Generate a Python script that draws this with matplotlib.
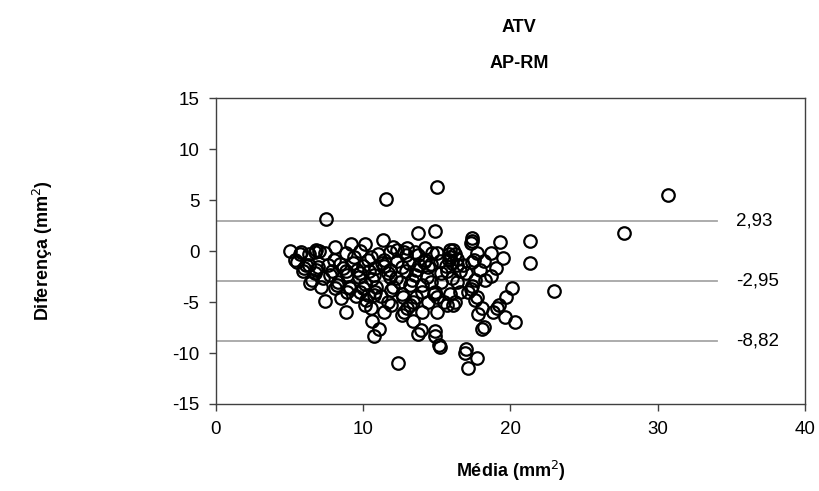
import matplotlib
matplotlib.use("Agg")
import matplotlib.pyplot as plt

plt.rcParams['font.family'] = ['Liberation Sans', 'DejaVu Sans']
plt.rcParams['axes.unicode_minus'] = False

# Bland-Altman: media (x) vs diferenca (y), mm2
media = [7.45, 11.55, 15.0, 30.7, 27.7, 21.3, 21.3, 22.95, 13.7, 14.9,
         5.0, 5.8, 5.7, 6.8, 6.7, 8.1, 9.2, 10.1, 11.35, 12.05,
         17.4, 17.4, 17.3, 19.3, 12.95, 15.9, 9.8, 11.8, 14.65, 15.0,
         17.7, 18.7, 19.5, 8.8, 12.8, 16.1, 12.9, 13.75, 15.8, 15.9,
         15.8, 17.5, 17.4, 19.0, 18.7, 17.9, 5.4, 5.5, 6.1, 6.3,
         5.9, 6.0, 6.4, 6.5, 6.7, 6.8, 6.95, 7.15, 7.3, 7.4,
         7.6, 7.75, 7.85, 8.1, 8.2, 8.3, 8.5, 8.8, 8.65, 8.8,
         8.9, 9.0, 9.1, 9.6, 9.7, 9.8, 9.8, 10.0, 10.1, 10.35,
         10.5, 10.1, 10.2, 10.35, 10.6, 11.05, 10.7, 10.6, 10.7, 10.8,
         10.9, 10.8, 10.7, 11.25, 11.4, 11.4, 11.7, 11.8, 11.8, 11.9,
         12.05, 11.7, 11.9, 12.35, 12.6, 12.7, 12.6, 12.8, 12.95, 13.2,
         13.4, 13.4, 13.75, 13.95, 14.0, 14.0, 13.2, 13.3, 13.5, 13.6,
         13.8, 14.1, 14.4, 14.9, 14.85, 15.15, 15.2, 15.0, 15.0, 14.8,
         14.9, 15.3, 15.3, 15.5, 15.7, 15.9, 16.1, 16.2, 16.35, 16.35,
         17.0, 17.1, 17.3, 17.4, 17.6, 17.7, 18.05, 17.8, 18.2, 18.05,
         18.8, 19.1, 19.2, 19.6, 20.3, 19.7, 20.1, 17.0, 16.9, 17.7,
         17.1, 14.2, 14.6, 15.2, 15.6, 16.0, 16.4, 16.8, 12.3, 12.6,
         12.9, 13.1, 12.2, 12.5, 14.3, 14.6, 14.0, 16.0, 15.7, 16.6,
         9.3, 9.4, 10.0, 10.4, 8.4, 8.0, 7.4, 7.0, 6.3, 11.0,
         12.3, 13.5, 14.2, 16.2, 18.2, 18.3, 17.6, 13.6, 11.2, 9.5,
         10.5, 11.4, 14.4, 16.6, 8.9]

diferenca = [3.1, 5.1, 6.3, 5.5, 1.8, 1.0, -1.15, -3.9, 1.8, 2.0,
             0.05, -0.05, -0.3, 0.1, -0.1, 0.4, 0.65, 0.65, 1.05, 0.4,
             1.25, 1.0, 0.75, 0.85, 0.25, 0.1, 0.0, -0.05, -0.2, -0.2,
             -0.15, -0.2, -0.7, -0.2, -0.05, 0.15, -0.4, -0.4, -0.25, -0.55,
             -0.9, -0.9, -1.05, -1.7, -2.4, -1.85, -0.9, -1.05, -1.4, -1.4,
             -2.0, -1.7, -3.1, -2.85, -2.2, -1.85, -1.6, -3.5, -2.6, -4.9,
             -1.4, -2.35, -2.0, -3.65, -3.3, -3.0, -4.6, -6.0, -1.7, -2.0,
             -2.35, -3.5, -3.65, -1.85, -2.5, -2.2, -4.0, -3.65, -3.2, -0.9,
             -0.55, -5.3, -4.8, -4.3, -6.9, -7.6, -8.35, -2.7, -2.35, -1.7,
             -3.5, -4.0, -4.3, -1.2, -0.9, -1.5, -2.2, -2.5, -1.85, -3.8,
             -3.5, -4.95, -5.3, -10.95, -4.2, -4.5, -6.3, -5.95, -5.6, -5.3,
             -4.95, -6.9, -8.1, -7.75, -5.95, -4.0, -3.3, -2.8, -2.3, -1.9,
             -1.4, -1.1, -1.6, -7.8, -8.3, -9.2, -9.4, -5.95, -4.5, -4.25,
             -4.05, -3.0, -2.2, -4.95, -5.3, -4.2, -5.3, -4.95, -3.0, -1.4,
             -2.2, -4.0, -3.7, -3.4, -4.8, -4.5, -5.6, -6.2, -7.4, -7.6,
             -5.95, -5.6, -5.3, -6.5, -7.0, -4.5, -3.65, -9.6, -10.0, -10.5,
             -11.5, -0.9, -1.3, -1.0, -1.5, -1.2, -0.8, -1.4, -1.0, -1.6,
             -2.0, -1.2, -2.6, -3.0, -2.5, -3.0, -3.3, -2.6, -2.0, -2.0,
             -1.2, -0.6, -1.5, -2.0, -1.3, -0.9, -0.2, 0.0, -0.3, -0.3,
             0.1, -0.1, 0.3, -0.3, -1.0, -2.8, -2.8, -4.5, -4.4, -4.4,
             -5.6, -6.0, -5.0, -4.0, -4.0]

limites = [2.93, -2.95, -8.82]
limite_labels = ['2,93', '-2,95', '-8,82']

fig = plt.figure(figsize=(8.19, 4.91), dpi=100)
ax = fig.add_axes([0.2637, 0.1772, 0.7192, 0.623])

# limits of agreement
for v, lab in zip(limites, limite_labels):
    ax.plot([0, 34], [v, v], color='#a6a6a6', lw=1.3, zorder=1)
    ax.text(35.3, v, lab, fontsize=13.5, va='center', ha='left')

ax.plot(media, diferenca, 'o', mfc='none', mec='black', ms=9, mew=1.6, zorder=2)

ax.set_xlim(0, 40)
ax.set_ylim(-15, 15)
ax.set_xticks([0, 10, 20, 30, 40])
ax.set_yticks([-15, -10, -5, 0, 5, 10, 15])
ax.tick_params(labelsize=13.5, direction='out', length=5, width=1, color='#404040', pad=7)
for s in ax.spines.values():
    s.set_color('#404040')
    s.set_linewidth(1)

ax.set_xlabel('Média (mm$^2$)', fontsize=13, fontweight='bold', labelpad=15)
fig.text(0.052, 0.49, 'Diferença (mm$^2$)', fontsize=13, fontweight='bold',
         rotation=90, ha='center', va='center')

fig.text(0.634, 0.943, 'ATV', fontsize=13, fontweight='bold', ha='center', va='center')
fig.text(0.634, 0.87, 'AP-RM', fontsize=13, fontweight='bold', ha='center', va='center')

fig.savefig('out.png', dpi=100)
